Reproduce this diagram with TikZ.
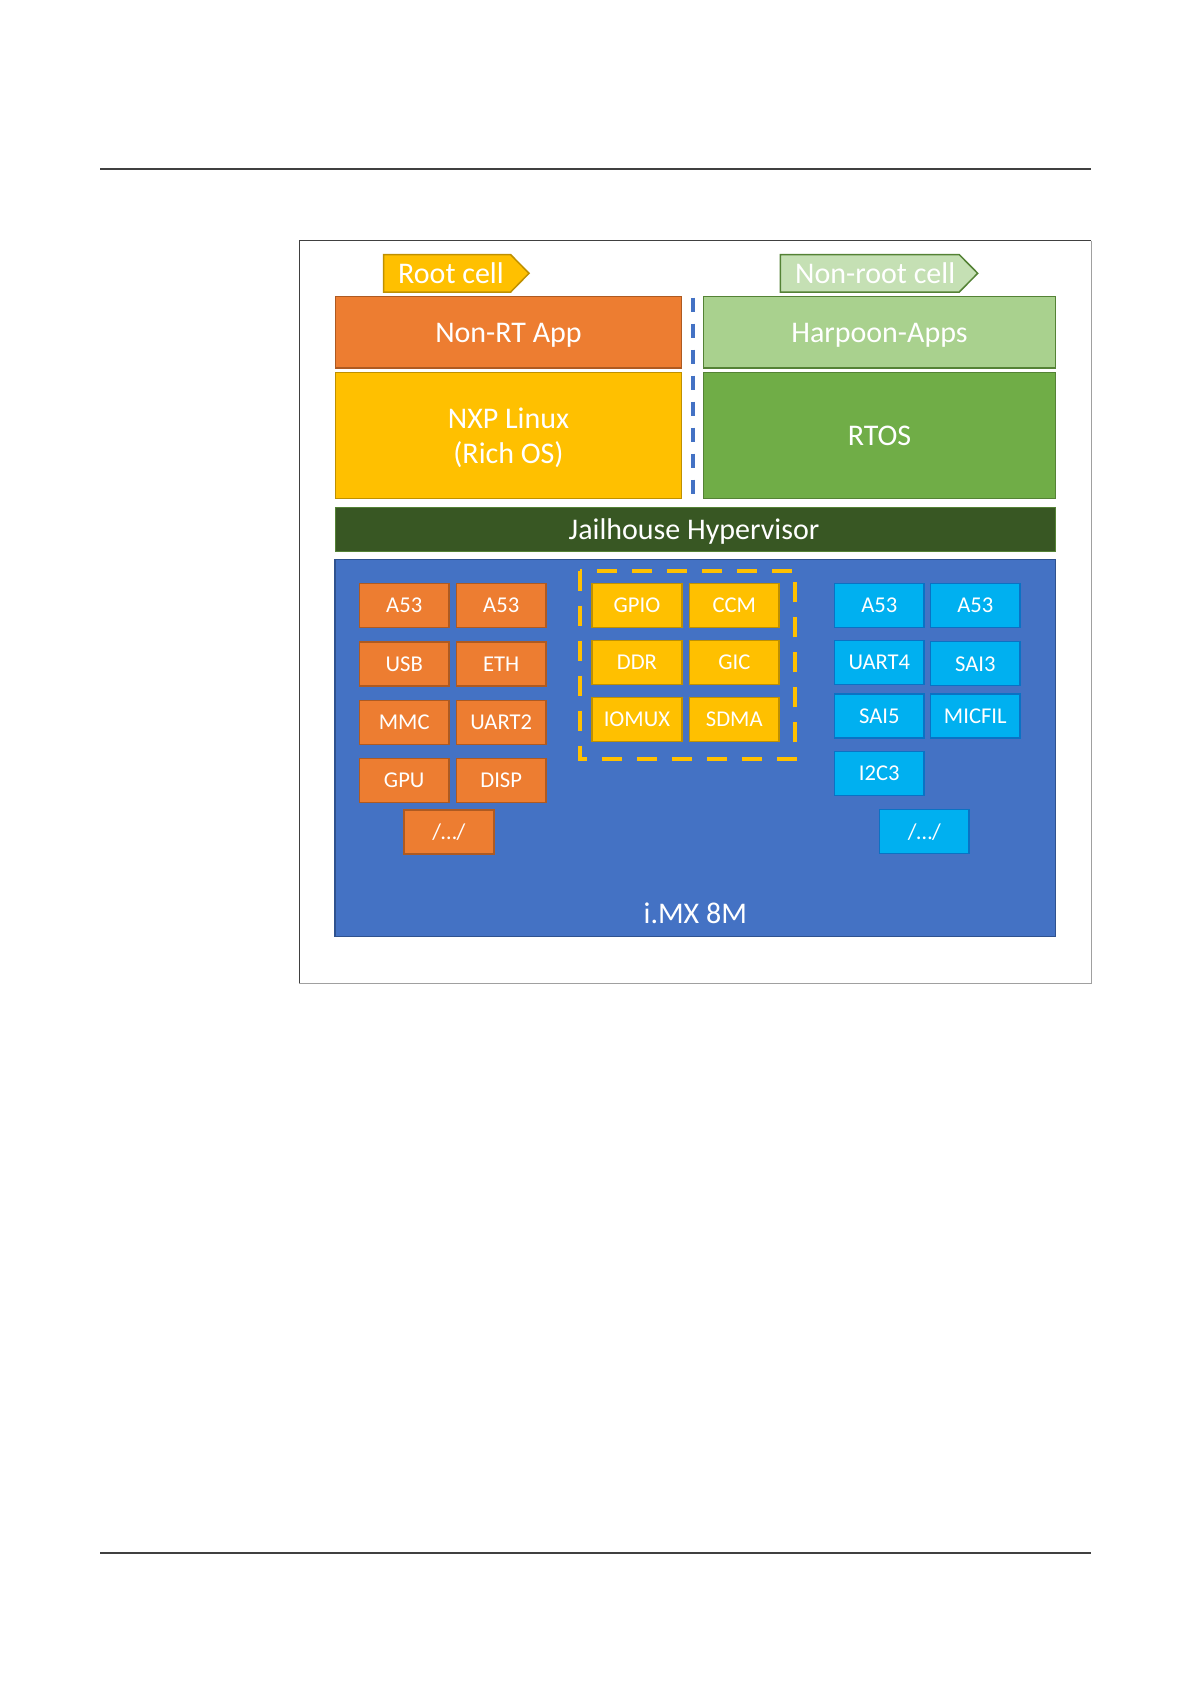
\documentclass[tikz,border=0pt]{standalone}
\usepackage{fontspec}
\setmainfont{Carlito}
\definecolor{cOr}{HTML}{ED7D31}
\definecolor{cOrD}{HTML}{AE5A21}
\definecolor{cYe}{HTML}{FFC000}
\definecolor{cYeD}{HTML}{BF9000}
\definecolor{cLg}{HTML}{A9D18E}
\definecolor{cTag}{HTML}{C5E0B4}
\definecolor{cGr}{HTML}{70AD47}
\definecolor{cGrD}{HTML}{548235}
\definecolor{cDg}{HTML}{385723}
\definecolor{cImx}{HTML}{4472C4}
\definecolor{cImxD}{HTML}{2F528F}
\definecolor{cBl}{HTML}{00B0F0}
\definecolor{cBlD}{HTML}{0A72C4}
\definecolor{cRule}{HTML}{404040}
\definecolor{cFrameL}{HTML}{A0A0A0}
\begin{document}
\begin{tikzpicture}[x=0.5pt,y=-0.5pt,
  big/.style={font=\fontsize{15}{18}\selectfont, text=white, text height=9.7pt, text depth=0pt, inner sep=0pt},
  layer/.style={big, line width=0.75pt},
  small/.style={font=\fontsize{11.3}{13}\selectfont, text=white, text height=7.3pt, text depth=0pt, inner sep=0pt, minimum width=44.85pt, minimum height=22pt, line width=0.75pt},
  obox/.style={small, fill=cOr, draw=cOrD},
  ybox/.style={small, fill=cYe, draw=cYeD},
  bbox/.style={small, fill=cBl, draw=cBlD},
  tagshape/.style={line width=0.75pt},
]
\useasboundingbox (0,0) rectangle (1192,1685);

% page rules
\draw[cRule, line width=1pt] (100,168.7) -- (1091,168.7);
\draw[cRule, line width=1pt] (100,1552.5) -- (1091,1552.5);

% outer frame
\draw[cRule, line width=0.75pt] (299.3,983.3) -- (299.3,240.7) -- (1091.3,240.7);
\draw[cFrameL, line width=0.75pt] (1091.3,240.7) -- (1091.3,983.3) -- (299.3,983.3);

% tags
\draw[tagshape, fill=cYe, draw=cYeD] (383.7,254.7) -- (510.7,254.7) -- (529,273.3) -- (510.7,292) -- (383.7,292) -- cycle;
\node[big] (roottag) at (451,273.3) {Root cell};
\draw[tagshape, fill=cTag, draw=cGrD] (780.3,254.7) -- (959.3,254.7) -- (977.7,273.3) -- (959.3,292) -- (780.3,292) -- cycle;
\node[big] (nonroottag) at (875.2,273.3) {Non-root cell};

% software layers
\node[layer, fill=cOr, draw=cOrD, minimum width=173.2pt, minimum height=35.65pt] (nonrt) at (508.5,332.3) {Non-RT App};
\node[layer, fill=cYe, draw=cYeD, minimum width=173.2pt, minimum height=63.2pt] (nxp) at (508.5,435.5) {};
\node[big, text height=, anchor=base] (nxpa) at (508.5,428.3) {NXP Linux};
\node[big, text height=, anchor=base] (nxpb) at (508.5,463.3) {(Rich OS)};
\node[layer, fill=cLg, draw=cGrD, minimum width=176.2pt, minimum height=35.65pt] (harpoon) at (879.5,332.3) {Harpoon-Apps};
\node[layer, fill=cGr, draw=cGrD, minimum width=176.2pt, minimum height=63pt] (rtos) at (879.5,435.3) {RTOS};

% separator
\draw[cImx, line width=2pt, dash pattern=on 7pt off 6pt] (692.7,297.7) -- (692.7,498.7);

% hypervisor
\node[layer, fill=cDg, draw=cGrD, minimum width=360.2pt, minimum height=22.2pt] (jail) at (695.5,529.5) {};
\node[big] (jailt) at (694,529.5) {Jailhouse Hypervisor};

% SoC
\node[line width=0.75pt, fill=cImx, draw=cImxD, minimum width=360.35pt, minimum height=188.7pt, inner sep=0pt] (imx) at (695.35,748) {};
\node[big, text height=, anchor=base] (imxt) at (695.3,923) {i.MX 8M};

% root cell peripherals
\node[obox] (oa1) at (404.2,605.3) {A53};
\node[obox] (oa2) at (501.2,605.3) {A53};
\node[obox] (ousb) at (404.2,664) {USB};
\node[obox] (oeth) at (501.2,664) {ETH};
\node[obox] (ommc) at (404.2,722.3) {MMC};
\node[obox] (ouart) at (501.2,722.3) {UART2};
\node[obox] (ogpu) at (404.2,780.3) {GPU};
\node[obox] (odisp) at (501.2,780.3) {DISP};
\node[obox] (oetc) at (448.9,832) {/…/};

% shared peripherals
\draw[cYe, line width=2pt, dash pattern=on 10pt off 7.5pt] (580.3,570.7) rectangle (795.3,759);
\node[ybox] (ygpio) at (636.9,605.3) {GPIO};
\node[ybox] (yccm) at (734.3,605.3) {CCM};
\node[ybox] (yddr) at (636.9,662.3) {DDR};
\node[ybox] (ygic) at (734.3,662.3) {GIC};
\node[ybox] (yiomux) at (636.9,719.3) {IOMUX};
\node[ybox] (ysdma) at (734.3,719.3) {SDMA};

% non-root cell peripherals
\node[bbox] (ba1) at (879.3,605.3) {A53};
\node[bbox] (ba2) at (975.3,605.3) {A53};
\node[bbox] (buart) at (879.3,662.3) {UART4};
\node[bbox] (bsai3) at (975.3,663.7) {SAI3};
\node[bbox] (bsai5) at (879.3,715.8) {SAI5};
\node[bbox] (bmic) at (975.3,715.8) {MICFIL};
\node[bbox] (bi2c) at (879.3,773.3) {I2C3};
\node[bbox] (betc) at (924.3,831.7) {/…/};
\end{tikzpicture}
\end{document}
